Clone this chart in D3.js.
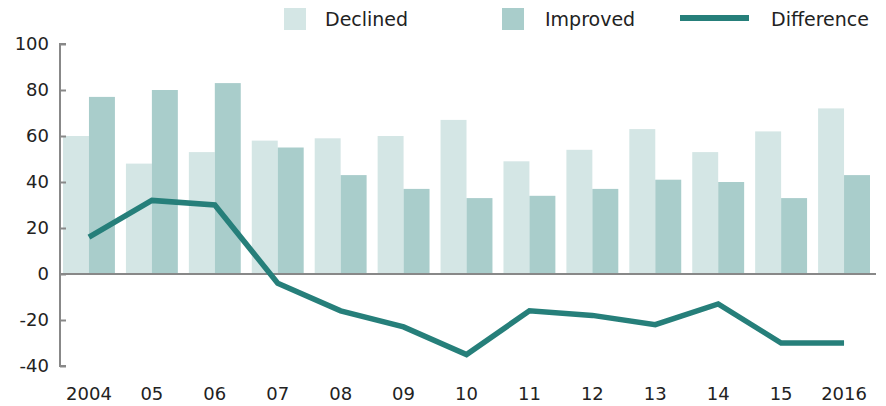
<!DOCTYPE html>
<html>
<head>
<meta charset="utf-8">
<script src="https://cdn.jsdelivr.net/npm/d3@7"></script>
<style>
  body { margin: 0; background: #fff; }
  svg { display: block; }
</style>
</head>
<body>
<div class="chart-container"></div>
<script>
// data
const years = ['2004', '05', '06', '07', '08', '09', '10', '11', '12', '13', '14', '15', '2016'];
const declined = [60, 48, 53, 58, 59, 60, 67, 49, 54, 63, 53, 62, 72];
const improved = [77, 80, 83, 55, 43, 37, 33, 34, 37, 41, 40, 33, 43];
const difference = [16, 32, 30, -4, -16, -23, -35, -16, -18, -22, -13, -30, -30];
const yTicks = [100, 80, 60, 40, 20, 0, -20, -40];

const width = 886;
const height = 406;

const colors = {
  declined: '#d4e6e5',
  improved: '#a9cdcb',
  difference: '#267f7a',
  axis: '#888888'
};

const x = d3.scaleBand()
  .domain(years)
  .range([57.5, 875.5])
  .paddingInner(0.175)
  .paddingOuter(0.0875);

const y = d3.scaleLinear()
  .domain([-40, 100])
  .range([366, 44]);

const svg = d3.select('.chart-container')
  .append('svg')
  .attr('width', width)
  .attr('height', height)
  .attr('font-family', '"DejaVu Sans", sans-serif')
  .attr('fill', '#222');

// bars
const half = x.bandwidth() / 2;
const groups = svg.append('g')
  .selectAll('g')
  .data(years)
  .join('g')
    .attr('transform', d => `translate(${x(d)},0)`);

groups.append('rect')
  .attr('x', 0)
  .attr('width', half)
  .attr('y', (d, i) => y(declined[i]))
  .attr('height', (d, i) => y(0) - y(declined[i]))
  .attr('fill', colors.declined);

groups.append('rect')
  .attr('x', half)
  .attr('width', half)
  .attr('y', (d, i) => y(improved[i]))
  .attr('height', (d, i) => y(0) - y(improved[i]))
  .attr('fill', colors.improved);

// y axis
const yAxis = svg.append('g')
  .attr('transform', 'translate(60,0)')
  .call(d3.axisRight(y).tickValues(yTicks).tickSize(6).tickFormat(''));
yAxis.select('.domain')
  .attr('stroke', colors.axis)
  .attr('stroke-width', 2)
  .attr('d', `M6,${y(100)}H0V${y(-40)}H6`);
yAxis.selectAll('.tick line')
  .attr('stroke', colors.axis)
  .attr('stroke-width', 2);

svg.append('g')
  .selectAll('text')
  .data(yTicks)
  .join('text')
    .attr('x', 49)
    .attr('y', d => y(d))
    .attr('dy', '0.36em')
    .attr('text-anchor', 'end')
    .attr('font-size', '18px')
    .text(d => d);

// zero line
svg.append('line')
  .attr('x1', 60)
  .attr('x2', 876)
  .attr('y1', y(0))
  .attr('y2', y(0))
  .attr('stroke', colors.axis)
  .attr('stroke-width', 2);

// x labels
svg.append('g')
  .selectAll('text')
  .data(years)
  .join('text')
    .attr('x', d => x(d) + half)
    .attr('y', 400)
    .attr('text-anchor', 'middle')
    .attr('font-size', '18px')
    .text(d => d);

// difference line
const line = d3.line()
  .x((d, i) => x(years[i]) + half)
  .y(d => y(d));

svg.append('path')
  .datum(difference)
  .attr('d', line)
  .attr('fill', 'none')
  .attr('stroke', colors.difference)
  .attr('stroke-width', 5.5)
  .attr('stroke-linejoin', 'miter');

// legend
const legend = svg.append('g');
legend.append('rect')
  .attr('x', 284).attr('y', 8).attr('width', 22).attr('height', 22)
  .attr('fill', colors.declined);
legend.append('text')
  .attr('x', 325).attr('y', 26).attr('font-size', '19px')
  .text('Declined');
legend.append('rect')
  .attr('x', 502).attr('y', 8).attr('width', 22).attr('height', 22)
  .attr('fill', colors.improved);
legend.append('text')
  .attr('x', 545).attr('y', 26).attr('font-size', '19px')
  .text('Improved');
legend.append('line')
  .attr('x1', 680).attr('x2', 749).attr('y1', 18).attr('y2', 18)
  .attr('stroke', colors.difference).attr('stroke-width', 6);
legend.append('text')
  .attr('x', 771).attr('y', 26).attr('font-size', '19px')
  .text('Difference');
</script>
</body>
</html>
